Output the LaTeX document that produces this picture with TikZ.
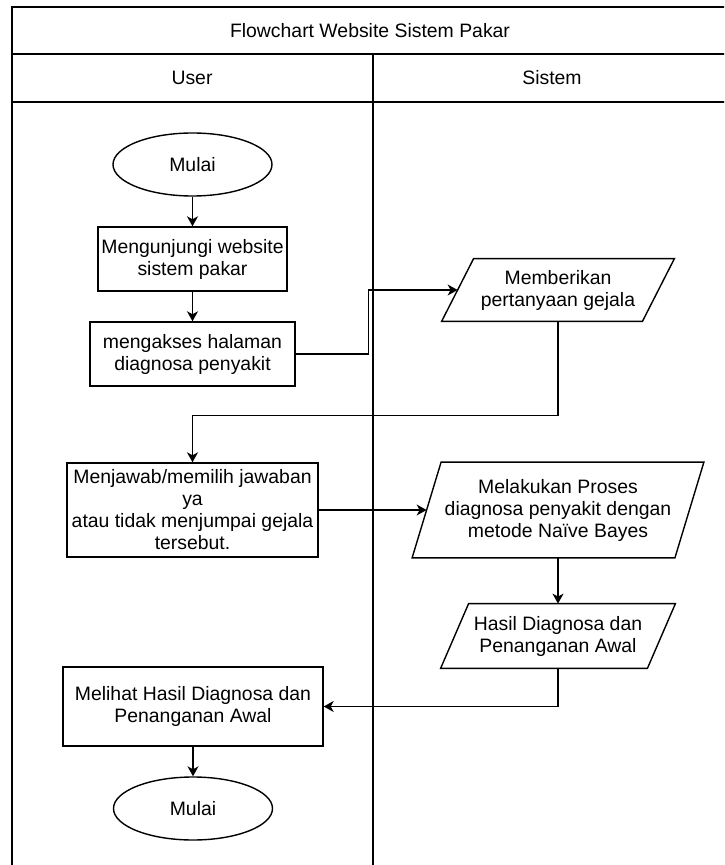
\documentclass[tikz,border=0pt]{standalone}
\usepackage{fontspec}
\setmainfont{Liberation Sans}
\usetikzlibrary{arrows.meta,shapes.geometric}
\begin{document}
\begin{tikzpicture}[x=0.5pt,y=-0.5pt,
  font=\fontsize{9.7}{11}\selectfont,
  lane/.style={line width=0.9pt, draw=black},
  proc/.style={draw, line width=0.7pt, rectangle, align=center, inner sep=1pt},
  term/.style={draw, line width=0.7pt, ellipse, inner sep=0pt},
  io/.style={rectangle, align=center, inner sep=0pt},
  flow/.style={line width=0.7pt, -{Stealth[length=5pt,width=5.5pt,inset=1.5pt]}},
  link/.style={line width=0.7pt}
]
\clip (0,0) rectangle (724,865);
\fill[white] (0,0) rectangle (724,865);

% swimlane frame
\draw[lane] (12,865) -- (12,7) -- (740,7);
\draw[lane] (12,54) -- (740,54);
\draw[lane] (12,102) -- (740,102);
\draw[lane] (373,54) -- (373,865);
\node (title) at (370,31) {Flowchart Website Sistem Pakar};
\node (user) at (192,78) {User};
\node (sistem) at (552,78) {Sistem};

% user lane
\node[term, minimum width=79.5pt, minimum height=31.5pt] (start) at (192.5,164.5) {Mulai};
\node[proc, minimum width=94.5pt, minimum height=32pt] (visit) at (192.5,259) {Mengunjungi website\\sistem pakar};
\node[proc, minimum width=102.5pt, minimum height=32pt] (open) at (192.5,354) {mengakses halaman\\diagnosa penyakit};
\node[proc, minimum width=125.5pt, minimum height=47pt] (answer) at (192.5,510) {Menjawab/memilih jawaban\\ya\\atau tidak menjumpai gejala\\tersebut.};
\node[proc, minimum width=130pt, minimum height=39.5pt] (view) at (193,706.5) {Melihat Hasil Diagnosa dan\\Penanganan Awal};
\node[term, minimum width=79.5pt, minimum height=31.5pt] (end) at (193,808.5) {Mulai};

% system lane (parallelograms)
\node[io, minimum width=100pt, minimum height=31pt] (ask) at (558,290) {Memberikan\\pertanyaan gejala};
\node[io, minimum width=131pt, minimum height=47.5pt] (process) at (558,510) {Melakukan Proses\\diagnosa penyakit dengan\\metode Naïve Bayes};
\node[io, minimum width=103pt, minimum height=32pt] (result) at (558,636) {Hasil Diagnosa dan\\Penanganan Awal};

\draw[link] ([xshift=8pt]ask.north west) -- ([xshift=8pt]ask.north east) -- ([xshift=-8pt]ask.south east) -- ([xshift=-8pt]ask.south west) -- cycle;
\draw[link] ([xshift=7.25pt]process.north west) -- ([xshift=7.25pt]process.north east) -- ([xshift=-7.25pt]process.south east) -- ([xshift=-7.25pt]process.south west) -- cycle;
\draw[link] ([xshift=7pt]result.north west) -- ([xshift=7pt]result.north east) -- ([xshift=-7pt]result.south east) -- ([xshift=-7pt]result.south west) -- cycle;

% connectors
\draw[flow] (start) -- (visit);
\draw[flow] (visit) -- (open);
\draw[flow] (open.east) -- ++(36.5pt,0) |- (ask.west);
\draw[flow] (ask.south) -- ++(0,-47pt) -| (answer.north);
\draw[flow] (answer.east) -- (process.west);
\draw[flow] (process.south) -- (result.north);
\draw[flow] (result.south) |- (view.east);
\draw[flow] (view) -- (end);
\end{tikzpicture}
\end{document}
